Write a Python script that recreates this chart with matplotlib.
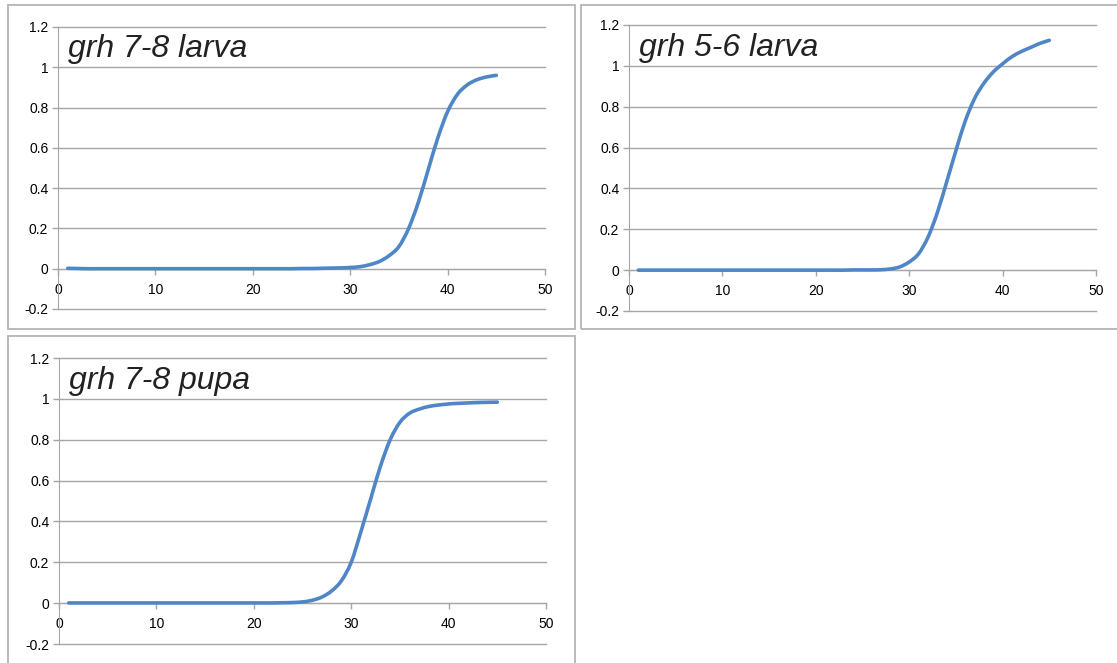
import matplotlib
matplotlib.use("Agg")
import matplotlib.pyplot as plt
from matplotlib.patches import Rectangle, PathPatch
from matplotlib.path import Path

# qPCR amplification curves
cycles = list(range(1, 46))

larva_78 = [0.002, 0.001, 0.000, 0.000, 0.000, 0.000, 0.000, 0.000, 0.000, 0.000,
            0.000, 0.000, 0.000, 0.000, 0.000, 0.000, 0.000, 0.000, 0.000, 0.000,
            0.000, 0.000, 0.000, 0.000, 0.001, 0.001, 0.002, 0.003, 0.004, 0.006,
            0.010, 0.020, 0.036, 0.065, 0.110, 0.200, 0.330, 0.490, 0.650, 0.780,
            0.865, 0.912, 0.938, 0.952, 0.960]

larva_56 = [0.000, 0.000, 0.000, 0.000, 0.000, 0.000, 0.000, 0.000, 0.000, 0.000,
            0.000, 0.000, 0.000, 0.000, 0.000, 0.000, 0.000, 0.000, 0.000, 0.000,
            0.000, 0.000, 0.000, 0.001, 0.001, 0.001, 0.002, 0.006, 0.016, 0.040,
            0.080, 0.160, 0.280, 0.430, 0.585, 0.730, 0.840, 0.915, 0.970, 1.010,
            1.045, 1.070, 1.090, 1.110, 1.125]

pupa_78 = [0.001, 0.001, 0.001, 0.001, 0.001, 0.001, 0.001, 0.001, 0.001, 0.001,
           0.001, 0.001, 0.001, 0.001, 0.001, 0.001, 0.001, 0.001, 0.001, 0.001,
           0.001, 0.001, 0.002, 0.003, 0.006, 0.014, 0.030, 0.060, 0.110, 0.200,
           0.350, 0.510, 0.670, 0.800, 0.885, 0.930, 0.950, 0.963, 0.970, 0.975,
           0.978, 0.980, 0.982, 0.983, 0.984]

titles = ["grh 7-8 larva", "grh 5-6 larva", "grh 7-8 pupa"]
series = [larva_78, larva_56, pupa_78]

W, H = 1117, 663
# (frame box, axes box) in pixels: left, top, right, bottom
boxes = [
    ((8, 5, 575, 329), (58, 27, 545, 309)),
    ((581, 5, 1125, 329), (629, 25, 1096, 311)),
    ((8, 336, 575, 670), (59, 358, 546, 644)),
]

grey = '#A6A6A6'
blue = '#4F86C6'


def smooth_path(xs, ys, k=1.0 / 6):
    # Excel-style "smoothed line": bezier segments through every point
    verts = [(xs[0], ys[0])]
    codes = [Path.MOVETO]
    n = len(xs)
    for i in range(n - 1):
        x0, y0 = xs[max(i - 1, 0)], ys[max(i - 1, 0)]
        x1, y1 = xs[i], ys[i]
        x2, y2 = xs[i + 1], ys[i + 1]
        x3, y3 = xs[min(i + 2, n - 1)], ys[min(i + 2, n - 1)]
        c1 = (x1 + (x2 - x0) * k, y1 + (y2 - y0) * k)
        c2 = (x2 - (x3 - x1) * k, y2 - (y3 - y1) * k)
        verts += [c1, c2, (x2, y2)]
        codes += [Path.CURVE4] * 3
    return Path(verts, codes)


plt.rcParams['font.family'] = ['Liberation Sans', 'DejaVu Sans']

fig = plt.figure(figsize=(W / 100, H / 100), dpi=100)

for (frame, axbox), title, vals in zip(boxes, titles, series):
    fl, ft, fr, fb = frame
    fig.add_artist(Rectangle((fl / W, 1 - fb / H), (fr - fl) / W, (fb - ft) / H,
                             transform=fig.transFigure, fill=False,
                             ec='#B4B4B4', lw=1.3))

    l, t, r, b = axbox
    ax = fig.add_axes([l / W, 1 - b / H, (r - l) / W, (b - t) / H])
    ax.add_patch(PathPatch(smooth_path(cycles, vals), fill=False, ec=blue,
                           lw=2.6, capstyle='round', joinstyle='round', zorder=3))

    ax.set_xlim(0, 50)
    ax.set_ylim(-0.2, 1.2)
    ax.set_xticks([0, 10, 20, 30, 40, 50])
    ax.set_yticks([-0.2, 0, 0.2, 0.4, 0.6, 0.8, 1, 1.2])
    ax.set_yticklabels(['-0.2', '0', '0.2', '0.4', '0.6', '0.8', '1', '1.2'])

    ax.spines['top'].set_visible(False)
    ax.spines['right'].set_visible(False)
    ax.spines['bottom'].set_position(('data', 0))
    ax.spines['bottom'].set_color(grey)
    ax.spines['left'].set_color(grey)
    ax.spines['bottom'].set_zorder(2)

    ax.grid(axis='y', color=grey, lw=1.0)
    for gl in ax.get_ygridlines():
        gl.set_clip_on(False)
    ax.set_axisbelow(True)
    ax.tick_params(axis='both', colors=grey, labelcolor='black', labelsize=10,
                   length=4, width=1.0, direction='out')
    ax.tick_params(axis='x', pad=6)
    ax.tick_params(axis='y', pad=3)

    ax.text(0.021, 0.893, title, transform=ax.transAxes, fontsize=23,
            style='italic', color='#222222', va='baseline', ha='left')

fig.savefig("out.png", dpi=100)
